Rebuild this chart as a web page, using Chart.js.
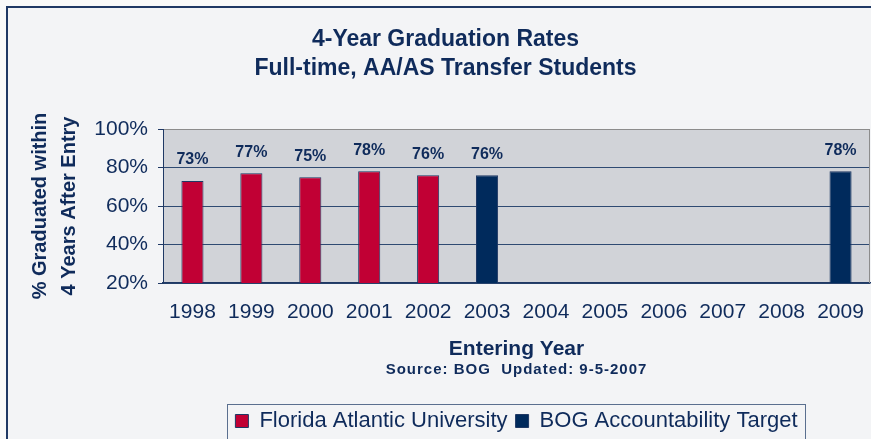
<!DOCTYPE html>
<html>
<head>
<meta charset="utf-8">
<script src="https://cdn.jsdelivr.net/npm/chart.js@4.4.1/dist/chart.umd.min.js"></script>
<style>
  html, body { margin: 0; padding: 0; background: #f9f9f9; }
  #wrap { width: 871px; height: 439px; position: relative; }
</style>
</head>
<body>
<div id="wrap"><canvas id="gradChart"></canvas></div>
<script>
// datos
const years = ["1998", "1999", "2000", "2001", "2002", "2003", "2004", "2005", "2006", "2007", "2008", "2009"];
const fauRates = [73, 77, 75, 78, 76, null, null, null, null, null, null, null];
const bogTarget = [null, null, null, null, null, 76, null, null, null, null, null, 78];
const yTicks = [20, 40, 60, 80, 100];
const sourceNote = "Source: BOG  Updated: 9-5-2007";

const NAVY = "#0f2b5b";
const FONT = "'Liberation Sans', Arial, sans-serif";

// fondo de la pagina, borde exterior y fondo gris del area del grafico
const fondoPlugin = {
  id: "fondo",
  beforeDraw(chart) {
    const { ctx, chartArea: a } = chart;
    ctx.save();
    ctx.fillStyle = "#f3f4f6";
    ctx.fillRect(7, 7, chart.width, chart.height);
    ctx.strokeStyle = "#1f3864";
    ctx.lineWidth = 2;
    ctx.strokeRect(7, 7, chart.width + 10, chart.height + 10);
    ctx.fillStyle = "#d1d3d8";
    ctx.fillRect(a.left, a.top, a.right - a.left, a.bottom - a.top);
    ctx.restore();
  },
};

// centra la leyenda sobre el area del grafico (como Excel)
const leyendaPlugin = {
  id: "leyendaCentrada",
  afterLayout(chart) {
    const lg = chart.legend;
    if (!lg) return;
    const a = chart.chartArea;
    const shift = (a.left + a.right) / 2 - (lg.left + lg.right) / 2;
    lg.left += shift;
    lg.right += shift;
    lg.top += 3;
    lg.bottom += 3;
  },
  afterDraw(chart) {
    const { ctx, chartArea: a } = chart;
    const lg = chart.legend;
    ctx.save();
    // borde derecho del area en gris
    ctx.strokeStyle = "#8c8c8c";
    ctx.lineWidth = 1;
    ctx.beginPath();
    ctx.moveTo(a.right - 0.5, a.top);
    ctx.lineTo(a.right - 0.5, a.bottom);
    ctx.stroke();
    // marco de la leyenda
    const pad = lg.options.labels.padding;
    const span = lg.lineWidths[0] - pad;
    const cx = (a.left + a.right) / 2;
    ctx.strokeStyle = "#5a6f8f";
    ctx.strokeRect(Math.round(cx - span / 2 - 8) + 0.5, Math.round(lg.top + 2) + 0.5, Math.round(span + 16), 60);
    // nota de la fuente debajo del titulo del eje x
    ctx.fillStyle = NAVY;
    ctx.font = "bold 15px " + FONT;
    ctx.letterSpacing = "1px";
    ctx.textAlign = "center";
    ctx.textBaseline = "middle";
    ctx.fillText(sourceNote, cx, 370);
    ctx.restore();
  },
};

// etiquetas de porcentaje encima de cada barra
const etiquetasPlugin = {
  id: "etiquetas",
  afterDatasetsDraw(chart) {
    const { ctx } = chart;
    ctx.save();
    ctx.fillStyle = NAVY;
    ctx.font = "bold 16px " + FONT;
    ctx.textAlign = "center";
    ctx.textBaseline = "middle";
    chart.data.datasets.forEach((ds, i) => {
      chart.getDatasetMeta(i).data.forEach((bar, j) => {
        const v = ds.data[j];
        if (v === null) return;
        ctx.fillText(v + "%", bar.x, bar.y - 21);
      });
    });
    ctx.restore();
  },
};

const ctx = document.getElementById("gradChart").getContext("2d");

new Chart(ctx, {
  type: "bar",
  data: {
    labels: years,
    datasets: [
      {
        label: "Florida Atlantic University",
        data: fauRates,
        backgroundColor: "#c10034",
        borderColor: "#1f3864",
        borderWidth: 1,
      },
      {
        label: "BOG Accountability Target",
        data: bogTarget,
        backgroundColor: "#002a5c",
        borderColor: "#1f3864",
        borderWidth: 1,
      },
    ],
  },
  options: {
    responsive: true,
    maintainAspectRatio: false,
    animation: false,
    layout: { padding: { left: 21, right: 1, top: 0, bottom: 0 } },
    datasets: {
      bar: { grouped: false, categoryPercentage: 1, barPercentage: 0.375 },
    },
    plugins: {
      tooltip: { enabled: false },
      title: {
        display: true,
        text: ["4-Year Graduation Rates", "Full-time, AA/AS Transfer Students"],
        color: NAVY,
        font: { family: FONT, size: 23, weight: "bold", lineHeight: 29 / 23 },
        padding: { top: 25, bottom: 46 },
      },
      legend: {
        position: "bottom",
        labels: {
          color: NAVY,
          boxWidth: 13,
          boxHeight: 13,
          padding: 8,
          font: { family: FONT, size: 22 },
        },
      },
    },
    scales: {
      x: {
        afterFit: (s) => { s.height = 116; },
        grid: { display: false, drawTicks: true, tickLength: 15 },
        border: { display: true, color: "#1f3864", width: 1.5 },
        ticks: { color: NAVY, padding: 2, font: { family: FONT, size: 21 } },
        title: {
          display: true,
          text: "Entering Year",
          color: NAVY,
          font: { family: FONT, size: 21, weight: "bold", lineHeight: 1.2 },
          padding: { top: 0, bottom: 37 },
        },
      },
      y: {
        min: 20,
        max: 100,
        afterFit: (s) => { s.width = 142; },
        afterBuildTicks: (s) => { s.ticks = yTicks.map((v) => ({ value: v })); },
        grid: {
          color: (c) => (c.tick && c.tick.value === 100 ? "#8c8c8c" : "#2f4a72"),
          tickColor: "#1f3864",
          tickLength: 5,
          lineWidth: 1,
        },
        border: { display: true, color: "#1f3864", width: 1 },
        ticks: {
          color: NAVY,
          padding: 10,
          font: { family: FONT, size: 21 },
          callback: (v) => v + "%",
        },
        title: {
          display: true,
          text: ["% Graduated within", "4 Years After Entry"],
          color: NAVY,
          font: { family: FONT, size: 20, weight: "bold", lineHeight: 1.45 },
          padding: { top: 5, bottom: 0 },
        },
      },
    },
  },
  plugins: [fondoPlugin, leyendaPlugin, etiquetasPlugin],
});
</script>
</body>
</html>
